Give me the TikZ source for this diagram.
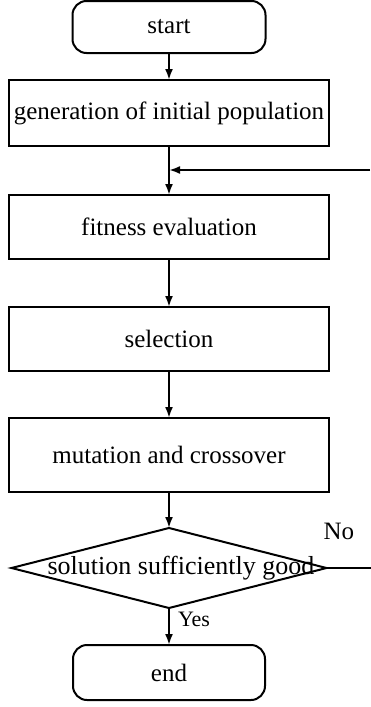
\documentclass[tikz,border=0pt]{standalone}
\usepackage{fontspec}
\setmainfont{Liberation Serif}
\usetikzlibrary{positioning,arrows.meta,shapes.geometric}

\begin{document}
\begin{tikzpicture}[node distance=27pt,
    every node/.style={font=\fontsize{25pt}{30pt}\selectfont},
    box/.style={rectangle, draw, line width=2pt, minimum width=320pt, inner sep=0pt, outer sep=0pt},
    termbox/.style={rectangle, rounded corners=14pt, draw, line width=2pt, inner sep=0pt, outer sep=0pt},
    testbox/.style={diamond, draw, line width=2pt, minimum width=315pt, minimum height=80pt, inner sep=0pt, outer sep=0pt},
    flow/.style={-{Latex[length=11pt,width=8pt]}, line width=2pt},
    link/.style={line width=2pt},
    tag/.style={inner sep=2pt}]
    \useasboundingbox (0,0) rectangle (370pt,-707pt);
    \node[termbox, minimum width=193pt, minimum height=52pt] (start) at (169pt,-27pt) {start};
    \node[box, minimum height=66pt, below=27pt of start] (init) {generation of initial population};
    \node[box, minimum height=64pt, below=49pt of init] (fit) {fitness evaluation};
    \node[box, minimum height=64pt, below=48pt of fit] (sel) {selection};
    \node[box, minimum height=74pt, below=47pt of sel] (mut) {mutation and crossover};
    \node[testbox, below=36pt of mut,
        label={[xshift=12pt, font=\fontsize{26pt}{30pt}\selectfont]center:solution sufficiently good}] (test) {};
    \node[termbox, minimum width=192pt, minimum height=55pt, below=37pt of test] (end) {end};
    % loop back and exit
    \coordinate[below=24pt of init.south] (merge);
    \path (merge) ++(201pt,0) coordinate (back);
    \path (test.east) ++(44pt,0) coordinate (noout);
    \draw[flow] (start) -- (init);
    \draw[flow] (init) -- (fit);
    \draw[flow] (back) -- (merge);
    \draw[flow] (fit) -- (sel);
    \draw[flow] (sel) -- (mut);
    \draw[flow] (mut) -- (test);
    \draw[flow] (test) -- node[tag, right, pos=.3, xshift=6pt, font=\fontsize{22pt}{26pt}\selectfont] {Yes} (end);
    \draw[link] (test) -- node[tag, pos=0, anchor=south west, xshift=-6pt, yshift=25pt] {No} (noout);
\end{tikzpicture}
\end{document}
